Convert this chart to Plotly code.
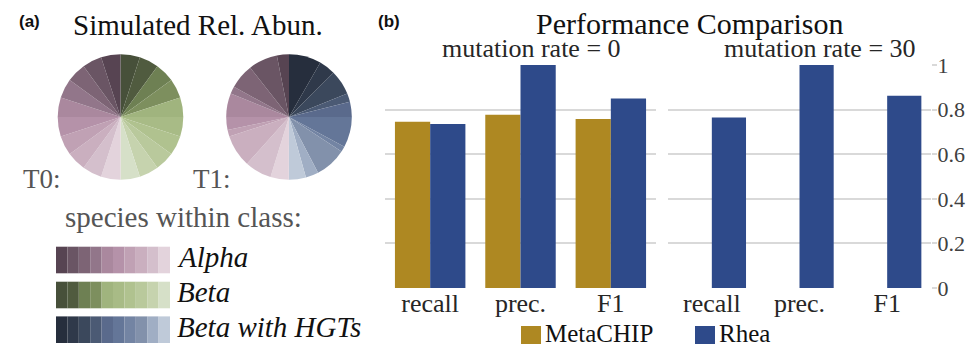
import plotly.graph_objects as go

W, H = 968, 348

# ---------------- data: panel (a) ----------------
species = ["sp1", "sp2", "sp3", "sp4", "sp5", "sp6", "sp7", "sp8", "sp9", "sp10"]
alpha_colors = ["#574452", "#6a5564", "#7d6475", "#92768a", "#aa889e",
                "#b592a9", "#c0a1b4", "#caafbf", "#d4bfcc", "#e3d3dc"]
beta_colors = ["#47503a", "#505b3f", "#6e8053", "#7d8f5e", "#a0b47e",
               "#a8bb86", "#b0c28f", "#b9c99c", "#c6d3ae", "#d6e0c8"]
hgt_colors = ["#262e3d", "#2f394a", "#3b485c", "#4b5a74", "#5a6a8c",
              "#647698", "#7384a3", "#8291ab", "#a0aec4", "#bfcad9"]

# relative abundance (%) per species, dark -> light
t0_alpha = [5, 5, 5, 5, 5, 5, 5, 5, 5, 5]
t0_beta = [5, 5, 5, 5, 5, 5, 5, 5, 5, 5]
t1_alpha = [3.1, 7.5, 6.4, 1.9, 6.1, 3.3, 1.7, 8.3, 6.9, 4.7]
t1_hgt = [8.3, 4.2, 6.4, 2.2, 3.9, 7.8, 1.4, 8.1, 3.3, 4.4]

legend_classes = ["Alpha", "Beta", "Beta with HGTs"]

# ---------------- data: panel (b) ----------------
metrics = ["recall", "prec.", "F1"]
metachip_mr0 = [0.745, 0.777, 0.758]
rhea_mr0 = [0.735, 1.0, 0.85]
metachip_mr30 = [0, 0, 0]
rhea_mr30 = [0.765, 1.0, 0.862]
y_ticks = [0, 0.2, 0.4, 0.6, 0.8, 1]
facet_titles = ["mutation rate = 0", "mutation rate = 30"]
methods = ["MetaCHIP", "Rhea"]

GOLD = "#ae8822"
BLUE = "#2e4a8a"
SERIF = "Liberation Serif"
SANS = "Liberation Sans"

fig = go.Figure()


def pie_domain(cx, cy, r):
    return dict(x=[(cx - r) / W, (cx + r) / W],
                y=[(H - cy - r) / H, (H - cy + r) / H])


def add_pie(first_vals, first_cols, alpha_vals, cx, name):
    labels = [f"{name} {s}" for s in species] + [f"Alpha {s}" for s in species[::-1]]
    values = list(first_vals) + list(alpha_vals[::-1])
    colors = list(first_cols) + list(alpha_colors[::-1])
    fig.add_trace(go.Pie(labels=labels, values=values, sort=False,
                         direction="clockwise", rotation=0,
                         marker=dict(colors=colors, line=dict(width=0)),
                         textinfo="none", showlegend=False,
                         domain=pie_domain(cx, 117, 62.8)))


add_pie(t0_beta, beta_colors, t0_alpha, 120.5, "Beta")
add_pie(t1_hgt, hgt_colors, t1_alpha, 289, "HGT")

# ---------------- bars ----------------
fig.add_trace(go.Bar(x=metrics, y=metachip_mr0, name=methods[0], marker_color=GOLD,
                     xaxis="x", yaxis="y", showlegend=False))
fig.add_trace(go.Bar(x=metrics, y=rhea_mr0, name=methods[1], marker_color=BLUE,
                     xaxis="x", yaxis="y", showlegend=False))
fig.add_trace(go.Bar(x=metrics, y=metachip_mr30, name=methods[0], marker_color=GOLD,
                     xaxis="x2", yaxis="y2", showlegend=False))
fig.add_trace(go.Bar(x=metrics, y=rhea_mr30, name=methods[1], marker_color=BLUE,
                     xaxis="x2", yaxis="y2", showlegend=False))

ydom = [(H - 288) / H, (H - 65) / H]
xcommon = dict(showgrid=False, zeroline=False, showline=False, ticks="", automargin=False,
               ticklabelstandoff=-3,
               tickfont=dict(family=SERIF, size=26, color="#262626"), fixedrange=True)
ycommon = dict(range=[0, 1], tickvals=y_ticks, domain=ydom, showgrid=True, automargin=False,
               gridcolor="#d9d9d9", gridwidth=2, zeroline=False, showline=False,
               fixedrange=True)

fig.update_layout(
    template="none",
    width=W, height=H, margin=dict(l=0, r=0, t=0, b=0, pad=0, autoexpand=False),
    paper_bgcolor="white", plot_bgcolor="white",
    barmode="group", bargap=0.22, bargroupgap=0, showlegend=False,
    font=dict(family=SERIF),
    xaxis=dict(domain=[385 / W, 656 / W], anchor="y", **xcommon),
    xaxis2=dict(domain=[668 / W, 931 / W], anchor="y2", **xcommon),
    yaxis=dict(anchor="x", showticklabels=False, ticks="", **ycommon),
    yaxis2=dict(anchor="x2", side="right", showticklabels=True, ticks="outside",
                ticklen=5, tickcolor="#d9d9d9", tickwidth=2, ticklabelstandoff=-4,
                tickfont=dict(family=SERIF, size=22, color="#404040"), **ycommon),
)


def text(x, baseline, s, size, color="#111111", family=SERIF, xanchor="left"):
    fig.add_annotation(x=x / W, y=1 - (baseline - 0.34 * size) / H, xref="paper", yref="paper",
                       text=s, showarrow=False, xanchor=xanchor, yanchor="middle",
                       font=dict(family=family, size=size, color=color))


# panel labels
text(17, 27, "<b>(a)</b>", 17, "#111111", SANS)
text(376, 27, "<b>(b)</b>", 17, "#111111", SANS)

# panel (a) texts
text(198, 35, "Simulated Rel. Abun.", 29, xanchor="center")
text(21, 188, "T0:", 27, "#555555")
text(191, 188, "T1:", 27, "#555555")
text(183, 227, "species within class:", 29, "#555555", xanchor="center")

strip_x0, cell_w, cell_h = 56, 11.4, 26.6
strip_tops = [246.7, 281.7, 316.4]
label_baselines = [267, 302, 337]
for palette, top, lab, bl in zip([alpha_colors, beta_colors, hgt_colors], strip_tops,
                                 legend_classes, label_baselines):
    for i, c in enumerate(palette):
        fig.add_shape(type="rect", xref="paper", yref="paper",
                      x0=(strip_x0 + i * cell_w) / W, x1=(strip_x0 + (i + 1) * cell_w) / W,
                      y0=1 - (top + cell_h) / H, y1=1 - top / H,
                      fillcolor=c, line=dict(width=0), layer="above")
    text(175, bl, f"<i>{lab}</i>", 29, "#111111")

# panel (b) texts
text(689, 34, "Performance Comparison", 30, xanchor="center")
text(531, 57, facet_titles[0], 26, "#262626", xanchor="center")
text(820, 57, facet_titles[1], 26, "#262626", xanchor="center")

# legend
for (lx, col, name) in [(521, GOLD, methods[0]), (695, BLUE, methods[1])]:
    fig.add_shape(type="rect", xref="paper", yref="paper",
                  x0=lx / W, x1=(lx + 20) / W, y0=1 - 344 / H, y1=1 - 326 / H,
                  fillcolor=col, line=dict(width=0))
    text(lx + 22, 341.5, name, 25, "#111111")

fig.write_html("out.html", config={"displayModeBar": False},
               post_script="document.body.style.margin='0px';")
